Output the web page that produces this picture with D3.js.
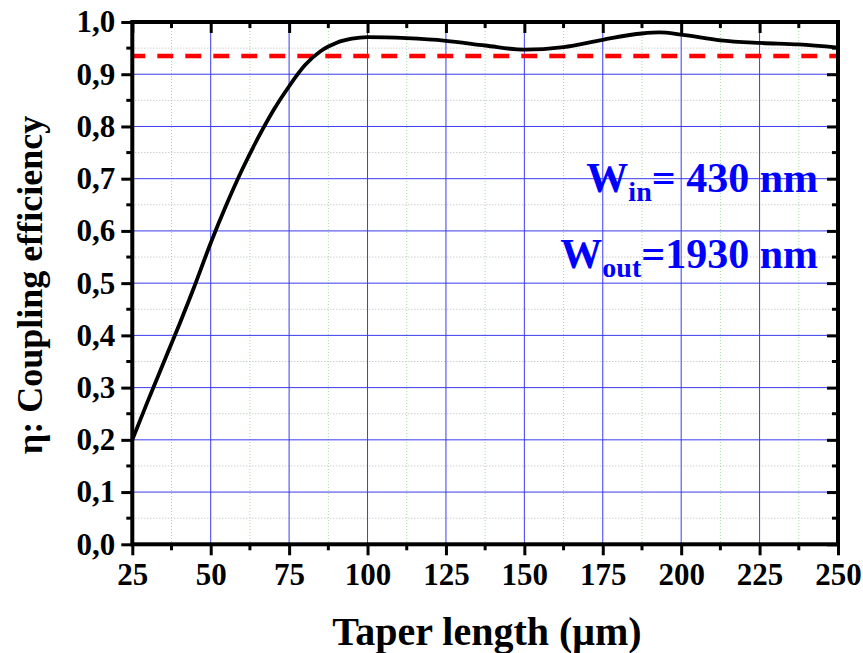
<!DOCTYPE html>
<html>
<head>
<meta charset="utf-8">
<script src="https://cdn.jsdelivr.net/npm/d3@7"></script>
<style>
  body { margin: 0; background: #fff; }
  text { font-family: "Liberation Serif", "Times New Roman", serif; font-weight: bold; }
</style>
</head>
<body>
<div id="chart"></div>
<script>
// taper length (um) and coupling efficiency
var taperLength = [25, 30, 35, 40, 45, 50, 55, 60, 65, 70, 75, 80, 85, 87.5, 90, 95, 100,
  112.5, 125, 137.5, 150, 162.5, 175, 187.5, 193, 200, 212.5, 225, 237.5, 250]
var efficiency = [0.200, 0.275, 0.348, 0.421, 0.497, 0.577, 0.650, 0.717, 0.777, 0.831, 0.877, 0.917, 0.944, 0.953, 0.960, 0.968, 0.971,
  0.969, 0.964, 0.955, 0.947, 0.952, 0.966, 0.978, 0.980, 0.976, 0.965, 0.960, 0.957, 0.951]
var threshold = 0.935
var xTicks = [25, 50, 75, 100, 125, 150, 175, 200, 225, 250]
var yTicks = [0, 0.1, 0.2, 0.3, 0.4, 0.5, 0.6, 0.7, 0.8, 0.9, 1.0]

var W = 863, H = 653
var margin = { left: 132.3, top: 22, right: 25, bottom: 108.7 }
var width = W - margin.left - margin.right
var height = H - margin.top - margin.bottom

var svg = d3.select("#chart").append("svg").attr("width", W).attr("height", H)
var g = svg.append("g").attr("transform", "translate(" + margin.left + "," + margin.top + ")")

var xs = d3.scaleLinear().domain([25, 250]).range([0, width])
var ys = d3.scaleLinear().domain([0, 1]).range([height, 0])

var xMinor = d3.range(37.5, 250, 25)
var yMinor = d3.range(0.05, 1, 0.1)

// minor grid (dotted)
g.append("g").selectAll("line").data(xMinor).enter().append("line")
  .attr("x1", d => xs(d)).attr("x2", d => xs(d)).attr("y1", 0).attr("y2", height)
  .attr("stroke", "#9fdc9f").attr("stroke-width", 1).attr("stroke-dasharray", "1,2")
g.append("g").selectAll("line").data(yMinor).enter().append("line")
  .attr("y1", d => ys(d)).attr("y2", d => ys(d)).attr("x1", 0).attr("x2", width)
  .attr("stroke", "#b8b8b8").attr("stroke-width", 1).attr("stroke-dasharray", "1,2")

// major grid
g.append("g").selectAll("line").data(xTicks.slice(1, -1)).enter().append("line")
  .attr("x1", d => xs(d)).attr("x2", d => xs(d)).attr("y1", 0).attr("y2", height)
  .attr("stroke", "#3a3af0").attr("stroke-width", 1)
g.append("g").selectAll("line").data(yTicks.slice(1, -1)).enter().append("line")
  .attr("y1", d => ys(d)).attr("y2", d => ys(d)).attr("x1", 0).attr("x2", width)
  .attr("stroke", "#3a3af0").attr("stroke-width", 1)

// red threshold line
g.append("line")
  .attr("x1", 0).attr("x2", width).attr("y1", ys(threshold)).attr("y2", ys(threshold))
  .attr("stroke", "#ff0000").attr("stroke-width", 4.5)
  .attr("stroke-dasharray", "16,12").attr("stroke-dashoffset", 3)

// curve
var line = d3.line().x(d => xs(d[0])).y(d => ys(d[1])).curve(d3.curveMonotoneX)
g.append("path")
  .datum(taperLength.map((t, i) => [t, efficiency[i]]))
  .attr("d", line)
  .attr("fill", "none").attr("stroke", "#000").attr("stroke-width", 3.8)

// axes
var fmt = d => d3.format(".1f")(d).replace(".", ",")
function styleAxis(sel) {
  sel.select(".domain").remove()
  sel.selectAll(".tick line").attr("stroke", "#000").attr("stroke-width", 3)
  sel.selectAll("text").style("font-size", "31px").attr("fill", "#000")
}
function minorTicks(sel, vals, horiz, len) {
  sel.append("g").selectAll("line").data(vals).enter().append("line")
    .attr("x1", d => horiz ? xs(d) : 0).attr("x2", d => horiz ? xs(d) : len)
    .attr("y1", d => horiz ? 0 : ys(d)).attr("y2", d => horiz ? len : ys(d))
    .attr("stroke", "#000").attr("stroke-width", 3)
}

var axBottom = g.append("g").attr("transform", "translate(0," + height + ")")
  .call(d3.axisBottom(xs).tickValues(xTicks).tickSize(11).tickPadding(8))
axBottom.call(styleAxis)
minorTicks(axBottom, xMinor, true, 6)

var axLeft = g.append("g")
  .call(d3.axisLeft(ys).tickValues(yTicks).tickFormat(fmt).tickSize(11).tickPadding(6))
axLeft.call(styleAxis)
minorTicks(axLeft, yMinor, false, -6)

var axTop = g.append("g")
  .call(d3.axisTop(xs).tickValues(xTicks).tickSize(-11).tickFormat(""))
axTop.call(styleAxis)
minorTicks(axTop, xMinor, true, 6)

var axRight = g.append("g").attr("transform", "translate(" + width + ",0)")
  .call(d3.axisRight(ys).tickValues(yTicks).tickSize(-11).tickFormat(""))
axRight.call(styleAxis)
minorTicks(axRight, yMinor, false, -6)

// frame
g.append("rect").attr("width", width).attr("height", height)
  .attr("fill", "none").attr("stroke", "#000").attr("stroke-width", 4)

// axis titles
svg.append("text")
  .attr("x", 487).attr("y", 645)
  .attr("text-anchor", "middle").style("font-size", "40px")
  .text("Taper length (μm)")
svg.append("text")
  .attr("transform", "translate(42," + 285 + ") rotate(-90)")
  .attr("text-anchor", "middle").style("font-size", "36px")
  .text("η: Coupling efficiency")

// width annotations
var ann1 = svg.append("text").attr("x", 818).attr("y", 192)
  .attr("text-anchor", "end").attr("fill", "#0000ff").style("font-size", "42px")
ann1.append("tspan").text("W")
ann1.append("tspan").attr("dy", 9).style("font-size", "28px").text("in")
ann1.append("tspan").attr("dy", -9).text("= 430 nm")

var ann2 = svg.append("text").attr("x", 818).attr("y", 268)
  .attr("text-anchor", "end").attr("fill", "#0000ff").style("font-size", "42px")
ann2.append("tspan").text("W")
ann2.append("tspan").attr("dy", 9).style("font-size", "28px").text("out")
ann2.append("tspan").attr("dy", -9).text("=1930 nm")
</script>
</body>
</html>
